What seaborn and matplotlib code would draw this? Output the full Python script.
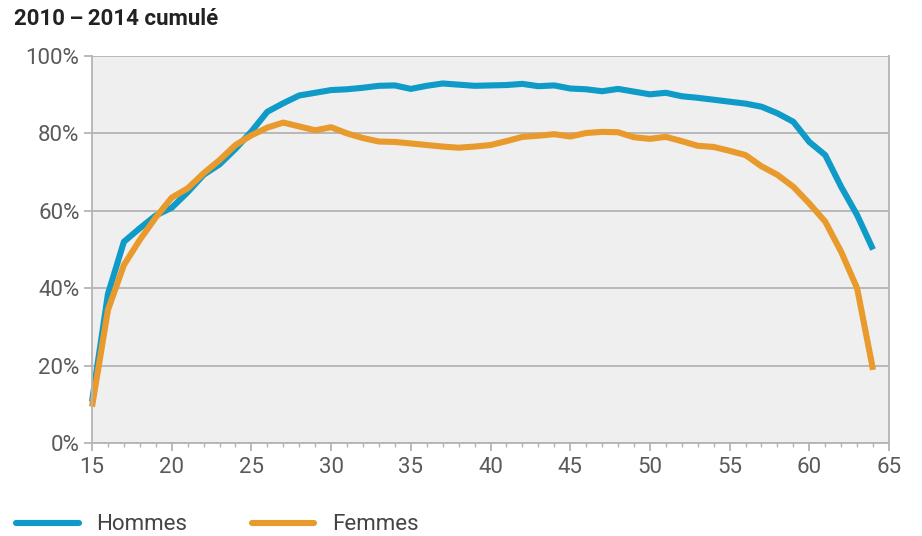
import numpy as np
import pandas as pd
import matplotlib
matplotlib.use("Agg")
import matplotlib.pyplot as plt
import seaborn as sns
from matplotlib.ticker import MultipleLocator, FuncFormatter

# data (share in %, by age)
ages = list(range(15, 65))
hommes = [10.7, 38.5, 52.0, 55.5, 58.8, 60.8, 64.8, 69.3, 72.0, 76.0,
          80.5, 85.6, 87.8, 89.8, 90.5, 91.2, 91.4, 91.8, 92.3, 92.4,
          91.5, 92.3, 92.9, 92.6, 92.3, 92.4, 92.5, 92.8, 92.2, 92.4,
          91.6, 91.4, 90.9, 91.5, 90.8, 90.1, 90.5, 89.6, 89.2, 88.7,
          88.2, 87.7, 86.9, 85.2, 83.0, 77.8, 74.4, 66.2, 58.9, 50.0]
femmes = [9.4, 34.4, 46.0, 52.5, 58.3, 63.4, 65.8, 69.7, 73.1, 77.0,
          79.5, 81.5, 82.8, 81.8, 80.8, 81.6, 80.0, 78.8, 77.9, 77.8,
          77.4, 77.0, 76.6, 76.3, 76.6, 77.0, 78.0, 79.1, 79.4, 79.8,
          79.2, 80.1, 80.4, 80.3, 79.0, 78.6, 79.1, 78.0, 76.8, 76.5,
          75.5, 74.4, 71.5, 69.3, 66.2, 61.9, 57.2, 49.4, 40.0, 18.9]
series = ["Hommes", "Femmes"]
colors = ["#0e9bc8", "#e99a2c"]
title = "2010\u2009–\u20092014 cumulé"

df = pd.concat([
    pd.DataFrame({"age": ages, "value": hommes, "sexe": series[0]}),
    pd.DataFrame({"age": ages, "value": femmes, "sexe": series[1]}),
])

sns.set_theme(style="white")
plt.rcParams["font.family"] = ["Roboto", "DejaVu Sans"]

grey = "#b4b4b4"
fig = plt.figure(figsize=(9.22, 5.36), dpi=100)
ax = fig.add_axes([0.0998, 0.1735, 0.8644, 0.722])
ax.set_facecolor("#efefef")

sns.lineplot(data=df, x="age", y="value", hue="sexe", hue_order=series,
             palette=colors, linewidth=4.4, ax=ax, legend=False)
for ln in ax.lines:
    ln.set_clip_on(False)
    ln.set_solid_capstyle("butt")

ax.set_xlim(15, 65)
ax.set_ylim(0, 100)
ax.xaxis.set_major_locator(MultipleLocator(5))
ax.xaxis.set_minor_locator(MultipleLocator(1))
ax.yaxis.set_major_locator(MultipleLocator(20))
ax.yaxis.set_major_formatter(FuncFormatter(lambda v, p: f"{v:.0f}%"))
ax.grid(axis="y", color=grey, linewidth=1.3)
ax.set_axisbelow(True)
ax.set_xlabel("")
ax.set_ylabel("")

for side in ["left", "right", "bottom"]:
    ax.spines[side].set_color(grey)
    ax.spines[side].set_linewidth(1.3)
ax.spines["top"].set_visible(False)

ax.tick_params(axis="x", which="major", direction="out", length=6, width=1.3,
               color=grey, labelsize=16, labelcolor="#5a5a5a", pad=4, bottom=True)
ax.tick_params(axis="x", which="minor", direction="out", length=3, width=1.0,
               color=grey, bottom=True)
ax.tick_params(axis="y", direction="out", length=6, width=1.3, color=grey,
               labelsize=16, labelcolor="#5a5a5a", pad=3, left=True)

fig.text(0.015, 0.985, title, fontsize=16, fontweight="bold",
         color="#222222", va="top", ha="left")

handles = [plt.Line2D([], [], color=c, linewidth=4.4) for c in colors]
fig.legend(handles, series, loc="lower left", bbox_to_anchor=(-0.004, -0.036),
           ncol=2, frameon=False, fontsize=16, handlelength=2.8,
           handletextpad=0.8, columnspacing=2.9, labelcolor="#444444")

fig.savefig("out.png", dpi=100)
